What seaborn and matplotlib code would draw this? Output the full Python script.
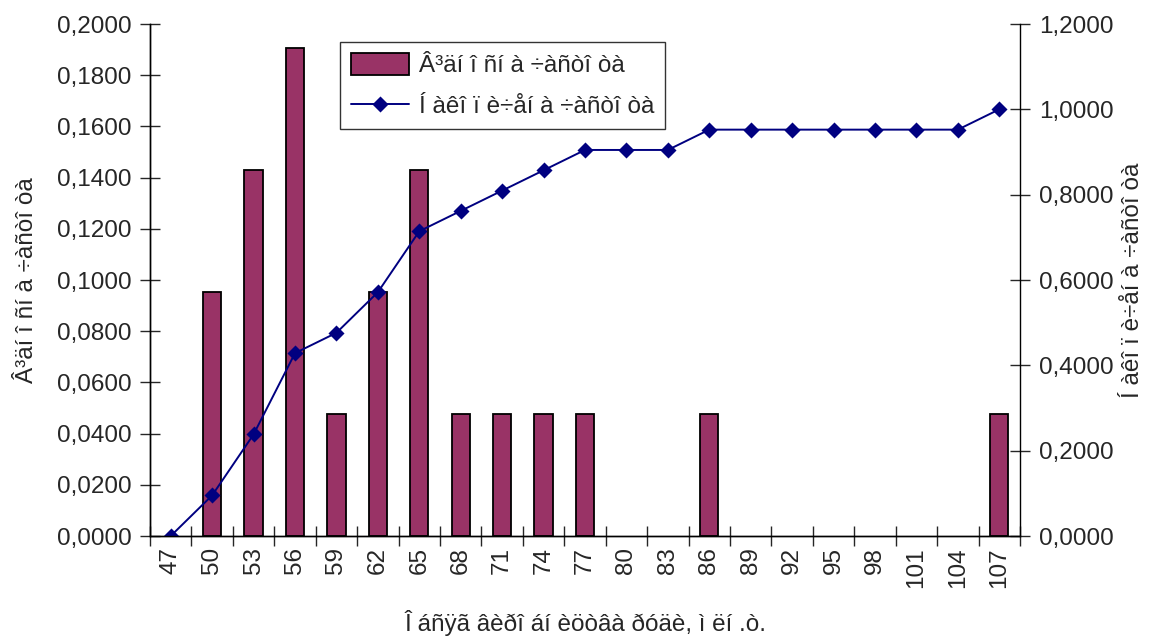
import numpy as np
import pandas as pd
import matplotlib
matplotlib.use("Agg")
import matplotlib.pyplot as plt
from matplotlib.ticker import FuncFormatter, FixedLocator
import seaborn as sns

# Ore output classes (mln t), relative and cumulative frequencies
categories = ["47", "50", "53", "56", "59", "62", "65", "68", "71", "74", "77",
              "80", "83", "86", "89", "92", "95", "98", "101", "104", "107"]
rel_freq = [0.0, 0.0952, 0.1429, 0.1905, 0.0476, 0.0952, 0.1429, 0.0476, 0.0476,
            0.0476, 0.0476, 0.0, 0.0, 0.0476, 0.0, 0.0, 0.0, 0.0, 0.0, 0.0, 0.0476]
cum_freq = [0.0, 0.0952, 0.2381, 0.4286, 0.4762, 0.5714, 0.7143, 0.7619, 0.8095,
            0.8571, 0.9048, 0.9048, 0.9048, 0.9524, 0.9524, 0.9524, 0.9524, 0.9524,
            0.9524, 0.9524, 1.0]

label_rel = "Â³äí î ñí à ÷àñòî òà"
label_cum = "Í àêî ï è÷åí à ÷àñòî òà"
label_x = "Î áñÿã âèðî áí èöòâà ðóäè, ì ëí .ò."

df = pd.DataFrame({"cls": categories, "rel": rel_freq, "cum": cum_freq})

sns.set_theme(style="white")
plt.rcParams["font.family"] = ["Liberation Sans", "DejaVu Sans"]
FS = 17.5

fig = plt.figure(figsize=(11.52, 6.37), dpi=100)
ax = fig.add_axes([150 / 1152, 1 - 536 / 637, 870 / 1152, 512 / 637])
ax2 = ax.twinx()

sns.barplot(data=df, x="cls", y="rel", order=categories, ax=ax,
            color="#993366", saturation=1, width=0.44,
            edgecolor="black", linewidth=1.3, label=label_rel)

sns.pointplot(data=df, x="cls", y="cum", order=categories, ax=ax2,
              color="#000080", markers="D", markersize=7.5, linewidth=1.4,
              label=label_cum)

n = len(categories)
ax.set_xlim(-0.5, n - 0.5)
ax.set_ylim(0, 0.2)
ax2.set_ylim(0, 1.2)
ax.set_yticks(np.arange(0, 0.2001, 0.02))
ax2.set_yticks(np.arange(0, 1.2001, 0.2))

comma = lambda d: FuncFormatter(lambda v, p: f"{v:.{d}f}".replace(".", ","))
ax.yaxis.set_major_formatter(comma(4))
ax2.yaxis.set_major_formatter(comma(4))

ax.set_xticks(range(n))
ax.set_xticklabels(categories, rotation=90)
ax.xaxis.set_minor_locator(FixedLocator(np.arange(-0.5, n, 1.0)))
ax.tick_params(axis="x", which="major", length=0, labelsize=FS, pad=8)
ax.tick_params(axis="x", which="minor", length=15, width=1, direction="inout", bottom=True)
ax.tick_params(axis="y", length=15, width=1, direction="inout", left=True, labelsize=FS, pad=6)
ax2.tick_params(axis="y", length=15, width=1, direction="inout", right=True, labelsize=FS, pad=6)

for a in (ax, ax2):
    a.spines["top"].set_visible(False)
    for s in ("left", "right", "bottom"):
        a.spines[s].set_color("black")
        a.spines[s].set_linewidth(1)
    a.grid(False)
ax.spines["right"].set_visible(False)

ax.set_xlabel(label_x, fontsize=FS, labelpad=16)
ax.set_ylabel(label_rel, fontsize=FS, labelpad=13)
ax2.set_ylabel(label_cum, fontsize=FS, labelpad=6)

h1, l1 = ax.get_legend_handles_labels()
h2, l2 = ax2.get_legend_handles_labels()
if ax2.get_legend() is not None:
    ax2.get_legend().remove()
if ax.get_legend() is not None:
    ax.get_legend().remove()
leg = ax2.legend(h1 + h2, l1 + l2, loc="upper left", bbox_to_anchor=(0.218, 0.965),
                 borderaxespad=0, fontsize=FS, frameon=True, fancybox=False,
                 edgecolor="black", handlelength=2.4, handleheight=1.0,
                 handletextpad=0.4, borderpad=0.45, labelspacing=0.7)
leg.get_frame().set_linewidth(1)

# empty classes get no outline on the baseline
for p in ax.patches:
    if p.get_height() == 0:
        p.set_visible(False)

fig.savefig("out.png", dpi=100)
